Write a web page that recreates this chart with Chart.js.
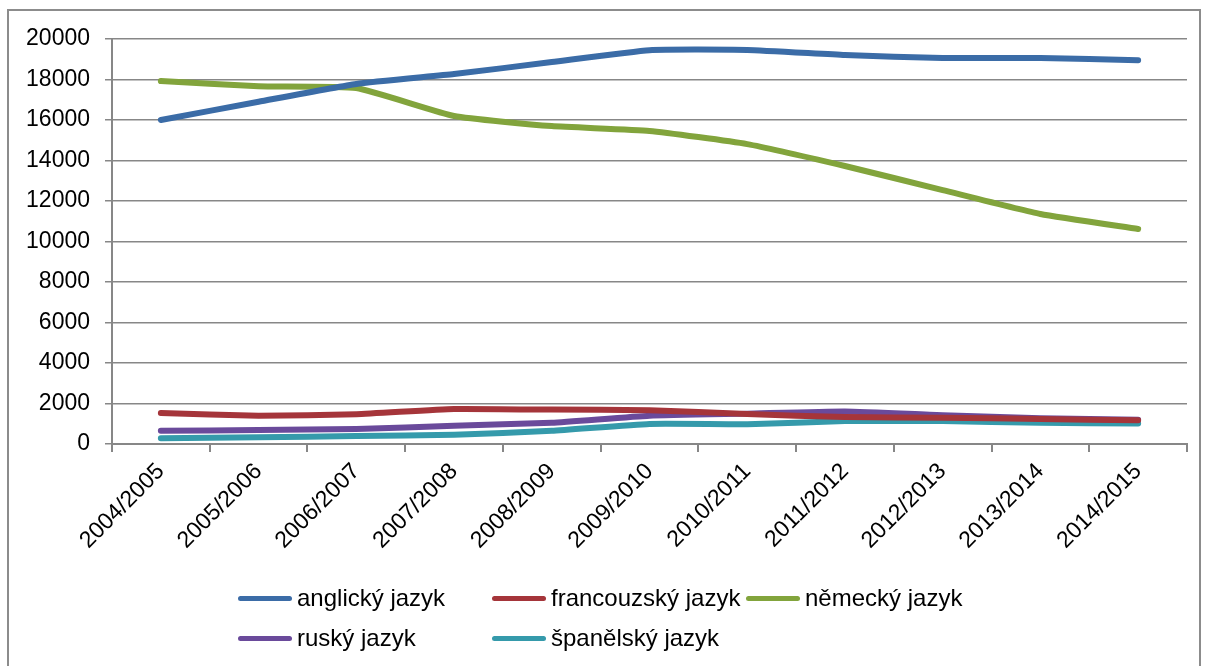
<!DOCTYPE html>
<html>
<head>
<meta charset="utf-8">
<script src="https://cdn.jsdelivr.net/npm/chart.js@4/dist/chart.umd.min.js"></script>
<style>
  body { margin: 0; background: #fff; font-family: "Liberation Sans", Arial, sans-serif; }
  .wrap { position: relative; width: 1205px; height: 666px; overflow: hidden; }
  .frame { position: absolute; left: 7px; top: 9px; width: 1194px; height: 700px; border: 2px solid #8c8c8c; box-sizing: border-box; }
  canvas { position: absolute; left: 0; top: 0; }
  .legend-item { position: absolute; display: flex; align-items: center; font-size: 24px; color: #000; height: 28px; }
  .legend-item .swatch { width: 54px; height: 5px; border-radius: 3px; margin-right: 5px; }
</style>
</head>
<body>
<div class="wrap">
  <div class="frame"></div>
  <canvas id="chart" width="1205" height="666"></canvas>
  <div id="legend"></div>
</div>
<script>
let labels = ['2004/2005', '2005/2006', '2006/2007', '2007/2008', '2008/2009', '2009/2010',
              '2010/2011', '2011/2012', '2012/2013', '2013/2014', '2014/2015']

let anglicky = [16000, 16900, 17780, 18270, 18860, 19450, 19460, 19210, 19060, 19060, 18950]
let francouzsky = [1530, 1400, 1470, 1730, 1700, 1670, 1480, 1330, 1300, 1230, 1170]
let nemecky = [17920, 17670, 17580, 16200, 15700, 15460, 14810, 13730, 12540, 11360, 10620]
let rusky = [650, 690, 740, 900, 1050, 1400, 1500, 1610, 1420, 1270, 1200]
let spanelsky = [290, 330, 390, 460, 650, 990, 980, 1130, 1130, 1050, 1010]

let names = ['anglický jazyk', 'francouzský jazyk', 'německý jazyk', 'ruský jazyk', 'španělský jazyk']
let colors = ['#3b6ca7', '#a5353a', '#82a43c', '#6a4a9b', '#359aab']
let series = [anglicky, francouzsky, nemecky, rusky, spanelsky]

let datasets = series.map((s, i) => ({
    label: names[i],
    data: s,
    borderColor: colors[i],
    backgroundColor: colors[i],
    borderWidth: 6,
    borderCapStyle: 'round',
    borderJoinStyle: 'round',
    pointRadius: 0,
    tension: 0.15,
    fill: false
}))

const gridColor = '#878787'

let chart = new Chart(document.getElementById('chart'), {
    type: 'line',
    data: { labels: labels, datasets: datasets },
    options: {
        responsive: false,
        animation: false,
        layout: { padding: { left: 0, top: 39, right: 18, bottom: 92 } },
        plugins: { legend: { display: false }, tooltip: { enabled: false } },
        scales: {
            x: {
                offset: true,
                grid: { display: true, offset: true, drawOnChartArea: false, drawTicks: true, tickLength: 8, color: gridColor, lineWidth: 2 },
                border: { display: true, color: gridColor, width: 2 },
                ticks: {
                    color: '#000', font: { family: 'Liberation Sans', size: 23 },
                    minRotation: 45, maxRotation: 45, padding: 6, autoSkip: false
                },
                afterFit: (scale) => { scale.height = 130 }
            },
            y: {
                min: 0, max: 20000,
                grid: { color: gridColor, lineWidth: 1.5, tickLength: 7 },
                border: { display: true, color: gridColor, width: 2 },
                ticks: {
                    stepSize: 2000, color: '#000', font: { family: 'Liberation Sans', size: 23 }, padding: 15,
                    callback: (v) => String(v)
                },
                afterFit: (scale) => { scale.width = 112 }
            }
        }
    }
})

// legend built from the same names/colors
let legendPos = [[238, 584], [492, 584], [746, 584], [238, 624], [492, 624]]
let legend = document.getElementById('legend')
names.forEach((n, i) => {
    let item = document.createElement('div')
    item.className = 'legend-item'
    item.style.left = legendPos[i][0] + 'px'
    item.style.top = legendPos[i][1] + 'px'
    let sw = document.createElement('div')
    sw.className = 'swatch'
    sw.style.background = colors[i]
    item.append(sw)
    item.append(document.createTextNode(n))
    legend.append(item)
})
</script>
</body>
</html>
